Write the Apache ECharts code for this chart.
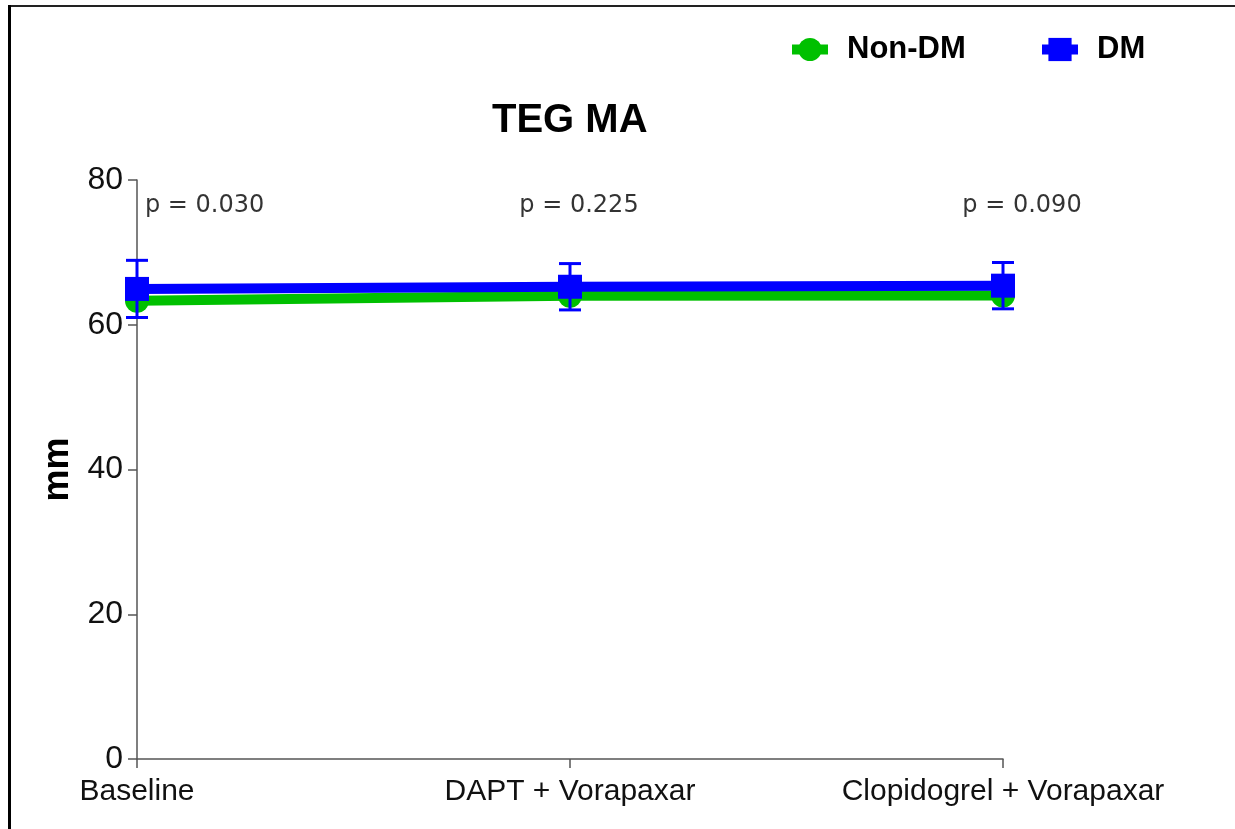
<!DOCTYPE html>
<html>
<head>
<meta charset="utf-8">
<title>TEG MA</title>
<script src="https://cdn.jsdelivr.net/npm/echarts@6/dist/echarts.min.js"></script>
<style>
  html, body { margin: 0; padding: 0; background: #fff; }
  #chart { width: 1235px; height: 829px; }
</style>
</head>
<body>
<div id="chart"></div>
<script>
// Treatment phases on the x axis
const categories = ['Baseline', 'DAPT + Vorapaxar', 'Clopidogrel + Vorapaxar'];
// Mean TEG maximum amplitude (mm) per group
const nonDmMean = [63.3, 64.0, 64.05];
const dmMean = [64.95, 65.25, 65.4];
// Standard deviation for the DM group (error bars)
const dmSD = [3.95, 3.2, 3.2];
// Between-group comparison at each phase
const pValues = ['p = 0.030', 'p = 0.225', 'p = 0.090'];
const pLabelLevel = 76.5;
// Y axis ticks
const yTicks = [0, 20, 40, 60, 80];

const GREEN = '#00c000';
const BLUE = '#0000ff';
const SANS = '"Liberation Sans", Arial, sans-serif';

const chart = echarts.init(document.getElementById('chart'), null, { renderer: 'canvas' });

const errData = categories.map((c, i) => [i, dmMean[i] + dmSD[i], dmMean[i] - dmSD[i]]);

// p-value labels: first is left-aligned after the axis, the others sit just right of centre
const pLabelOffsets = [[8, 0], [9, 0], [19, 0]];
const pData = pValues.map((t, i) => ({
  value: [i, pLabelLevel],
  label: {
    show: true,
    formatter: t,
    position: 'inside',
    align: i === 0 ? 'left' : 'center',
    offset: pLabelOffsets[i]
  }
}));

const legendCommon = {
  top: 29,
  itemWidth: 36,
  itemHeight: 29,
  lineStyle: { width: 10 },
  textStyle: { fontFamily: SANS, fontWeight: 'bold', fontSize: 31, color: '#000', padding: [0, 0, 0, 14] }
};

const option = {
  animation: false,
  backgroundColor: '#ffffff',
  title: {
    text: 'TEG MA',
    left: 492,
    top: 101,
    padding: 0,
    textStyle: { fontFamily: SANS, fontWeight: 'bold', fontSize: 40, color: '#000' }
  },
  legend: [
    Object.assign({ data: ['Non-DM'], left: 782 }, legendCommon),
    Object.assign({ data: ['DM'], left: 1032 }, legendCommon)
  ],
  grid: { left: 137, right: 232, top: 180, bottom: 70, containLabel: false },
  xAxis: {
    type: 'category',
    data: categories,
    boundaryGap: false,
    axisLine: { lineStyle: { color: '#555', width: 1.5 } },
    axisTick: { show: true, length: 9, lineStyle: { color: '#555', width: 1.5 } },
    axisLabel: { fontFamily: SANS, fontSize: 30, color: '#111', margin: 18, interval: 0 },
    splitLine: { show: false }
  },
  yAxis: {
    type: 'value',
    min: yTicks[0],
    max: yTicks[yTicks.length - 1],
    interval: yTicks[1] - yTicks[0],
    name: 'mm',
    nameLocation: 'middle',
    nameGap: 58,
    nameRotate: 90,
    nameTextStyle: { fontFamily: SANS, fontWeight: 'bold', fontSize: 36, color: '#000' },
    axisLine: { show: true, lineStyle: { color: '#555', width: 1.5 } },
    axisTick: { show: true, length: 9, lineStyle: { color: '#555', width: 1.5 } },
    axisLabel: { fontFamily: SANS, fontSize: 32, color: '#111', margin: 14 },
    splitLine: { show: false }
  },
  series: [
    {
      name: 'Non-DM',
      type: 'line',
      data: nonDmMean,
      symbol: 'circle',
      symbolSize: 24,
      lineStyle: { color: GREEN, width: 10 },
      itemStyle: { color: GREEN, borderWidth: 0 },
      z: 2
    },
    {
      name: 'DM',
      type: 'line',
      data: dmMean,
      symbol: 'rect',
      symbolSize: 24,
      lineStyle: { color: BLUE, width: 10 },
      itemStyle: { color: BLUE, borderWidth: 0 },
      z: 4
    },
    {
      name: 'DM SD',
      type: 'custom',
      data: errData,
      z: 3,
      renderItem: function (params, api) {
        const top = api.coord([api.value(0), api.value(1)]);
        const bot = api.coord([api.value(0), api.value(2)]);
        const x = top[0];
        const half = 11;
        const st = { stroke: BLUE, lineWidth: 3 };
        return {
          type: 'group',
          children: [
            { type: 'line', shape: { x1: x, y1: top[1], x2: x, y2: bot[1] }, style: st },
            { type: 'line', shape: { x1: x - half, y1: top[1], x2: x + half, y2: top[1] }, style: st },
            { type: 'line', shape: { x1: x - half, y1: bot[1], x2: x + half, y2: bot[1] }, style: st }
          ]
        };
      }
    },
    {
      name: 'p',
      type: 'scatter',
      data: pData,
      symbolSize: 0,
      silent: true,
      label: { fontFamily: '"DejaVu Sans", sans-serif', fontSize: 24, color: '#000' }
    }
  ],
  graphic: [
    { type: 'line', shape: { x1: 8, y1: 6, x2: 1235, y2: 6 }, style: { stroke: '#222', lineWidth: 2 } },
    { type: 'line', shape: { x1: 9.5, y1: 5, x2: 9.5, y2: 829 }, style: { stroke: '#000', lineWidth: 3 } }
  ]
};

chart.setOption(option);
</script>
</body>
</html>
